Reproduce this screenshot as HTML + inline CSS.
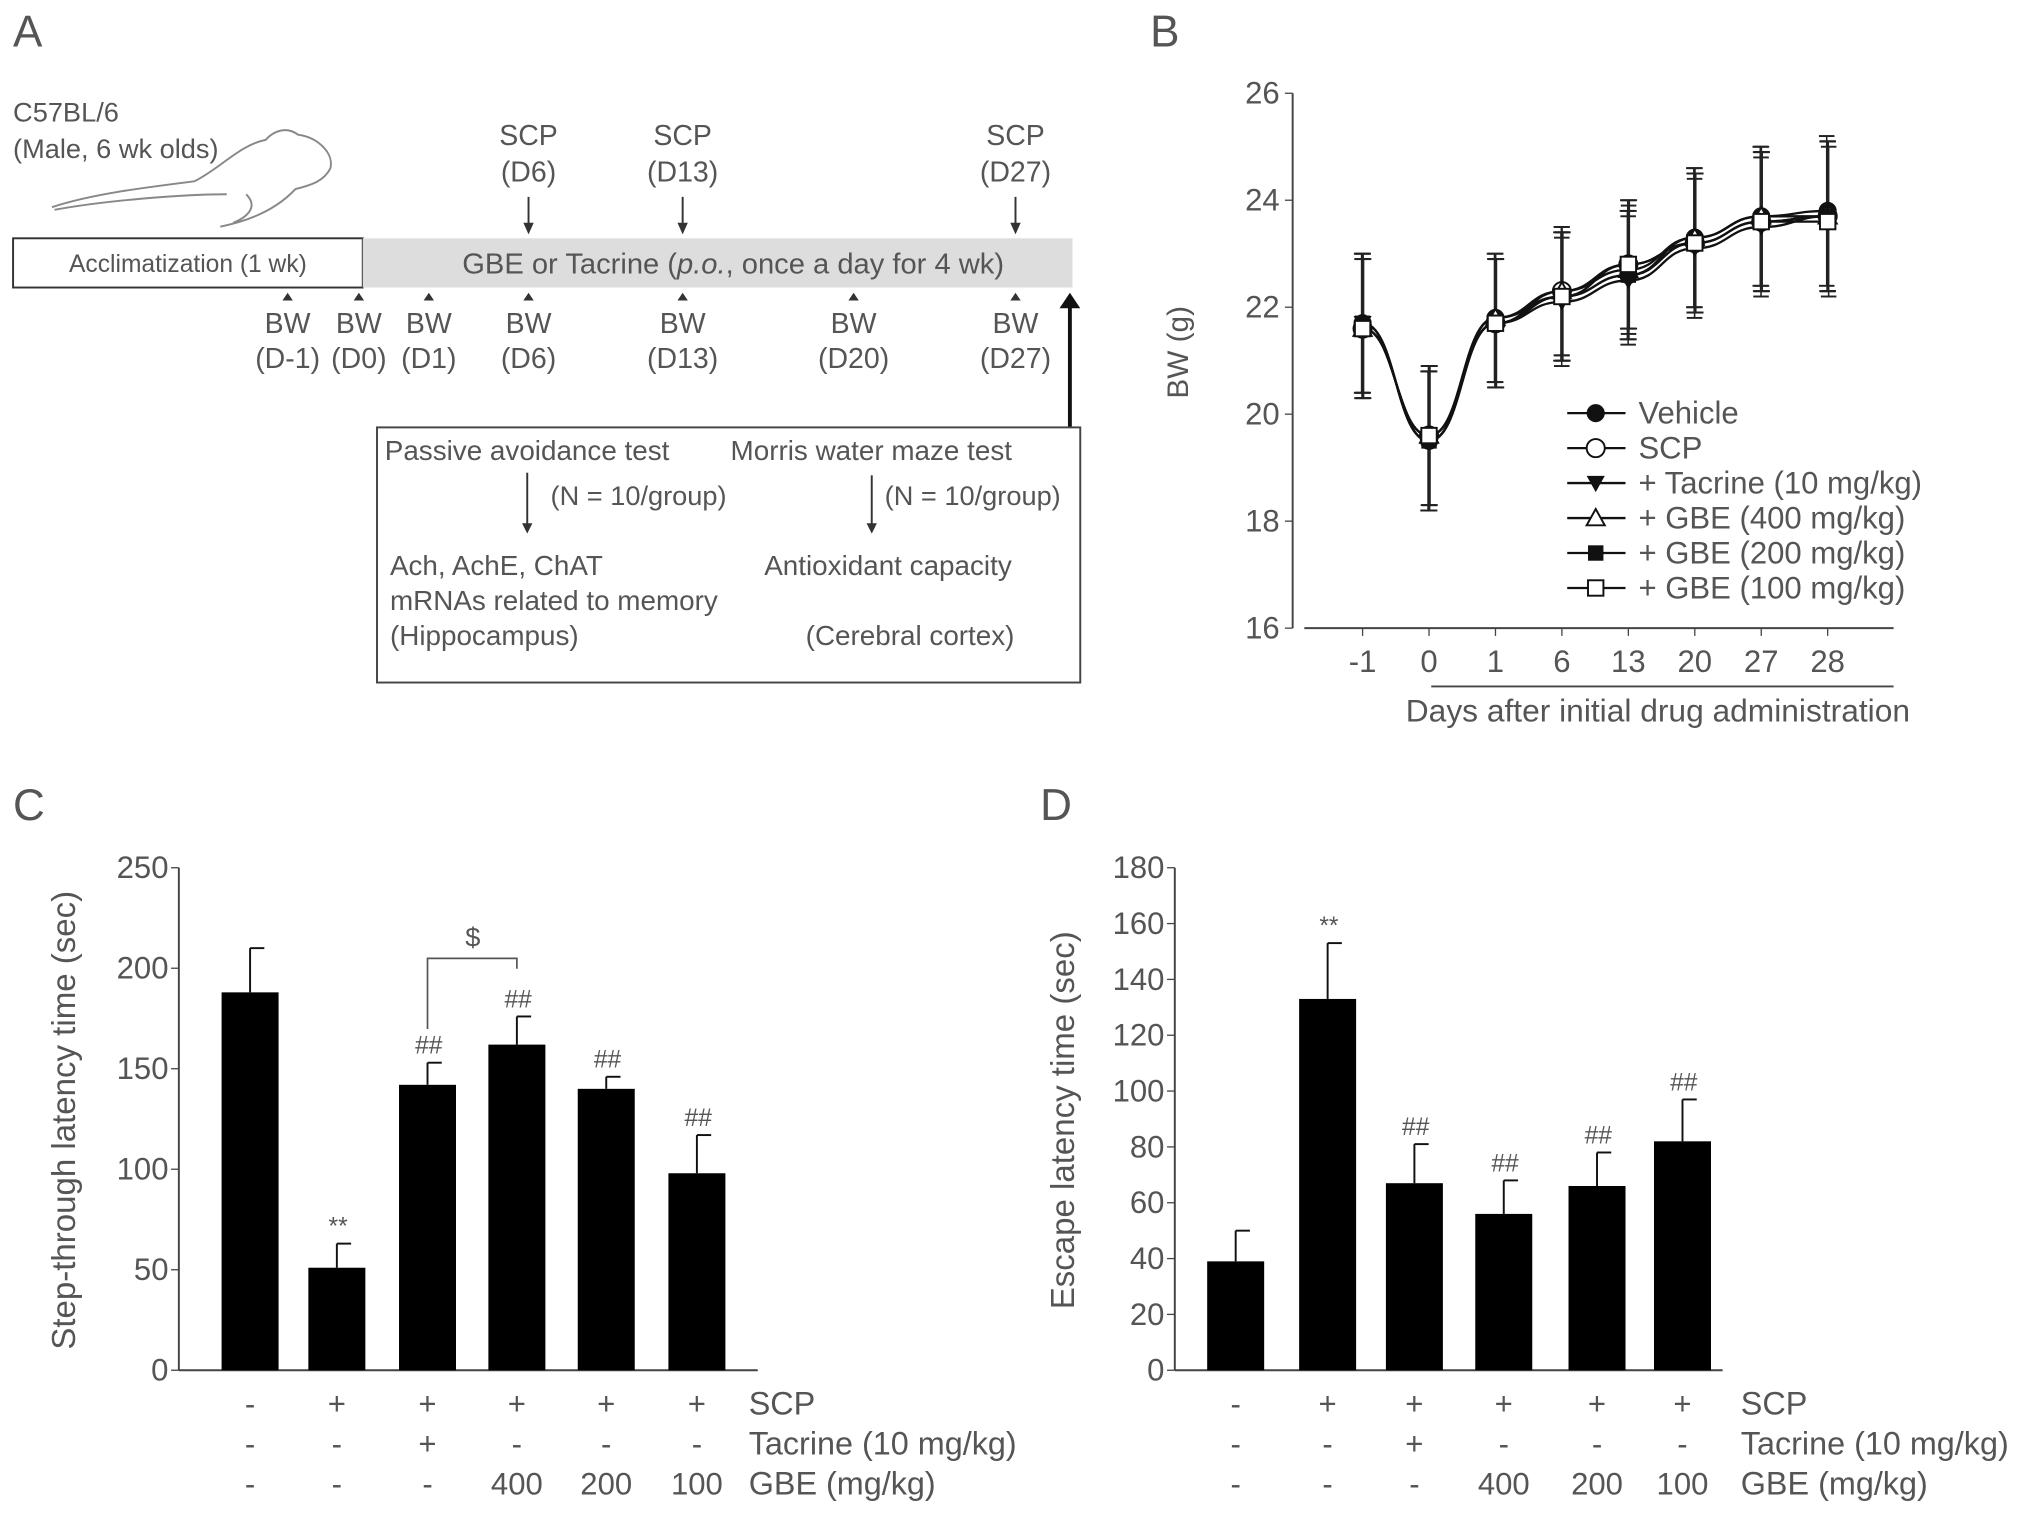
<!DOCTYPE html>
<html><head><meta charset="utf-8"><style>
html,body{margin:0;padding:0;background:#fff;}
svg{display:block;}
text{font-family:"Liberation Sans",sans-serif;fill:#555;}
</style></head><body>
<svg id="fig" width="2031" height="1514" viewBox="0 0 1568 1169">
<g>
<text x="10" y="36" font-size="34">A</text>
<text x="10" y="94" font-size="21">C57BL/6</text>
<text x="10" y="122" font-size="21">(Male, 6 wk olds)</text>
<path d="M40,160 C70,150 110,145 150,140 C170,130 185,112 205,108 C212,100 222,98 230,104 C245,106 258,118 255,130 C250,140 240,143 228,146 C215,160 195,170 170,175 M175,150 C140,150 80,155 42,162 M190,150 C200,160 190,168 180,172" fill="none" stroke="#888" stroke-width="1.5"/>
<rect x="10" y="184" width="270" height="38" fill="#fff" stroke="#333" stroke-width="1.5"/>
<text x="145" y="210" font-size="19" text-anchor="middle">Acclimatization (1 wk)</text>
<rect x="280" y="184" width="548" height="38" fill="#ddd"/>
<text x="566" y="211" font-size="22.5" text-anchor="middle">GBE or Tacrine (<tspan font-style="italic">p.o.</tspan>, once a day for 4 wk)</text>
<g id="scpG"></g><g id="bwG"></g>
<line x1="826" y1="232" x2="826" y2="330" stroke="#111" stroke-width="3"/>
<path d="M818,238 L826,226 L834,238Z" fill="#111"/>
<rect x="291" y="330" width="543" height="197" fill="#fff" stroke="#444" stroke-width="1.5"/>
<text x="297" y="355" font-size="21.5">Passive avoidance test</text>
<text x="564" y="355" font-size="21.5">Morris water maze test</text>
<line x1="407" y1="365" x2="407" y2="410" stroke="#333" stroke-width="1.5"/><path d="M403,404 L407,412 L411,404Z" fill="#333"/>
<line x1="673" y1="367" x2="673" y2="410" stroke="#333" stroke-width="1.5"/><path d="M669,404 L673,412 L677,404Z" fill="#333"/>
<text x="425" y="390" font-size="21">(N = 10/group)</text>
<text x="683" y="390" font-size="21">(N = 10/group)</text>
<text x="301" y="444" font-size="21.5">Ach, AchE, ChAT</text>
<text x="301" y="471" font-size="21.5">mRNAs related to memory</text>
<text x="301" y="498" font-size="21.5">(Hippocampus)</text>
<text x="590" y="444" font-size="21.5">Antioxidant capacity</text>
<text x="622" y="498" font-size="21.5">(Cerebral cortex)</text>
</g>
<g id="panelB">
<text x="888" y="36" font-size="34">B</text>
<text transform="translate(917,272) rotate(-90)" font-size="23" text-anchor="middle">BW (g)</text>
<text x="1280" y="557" font-size="24.5" text-anchor="middle">Days after initial drug administration</text>
</g>
<g id="panelC">
<text x="10" y="633" font-size="34">C</text>
<text transform="translate(58,865) rotate(-90)" font-size="25.5" text-anchor="middle">Step-through latency time (sec)</text>
</g>
<g id="panelD">
<text x="803" y="633" font-size="34">D</text>
<text transform="translate(829,865) rotate(-90)" font-size="25.5" text-anchor="middle">Escape latency time (sec)</text>
</g>
</svg>
<script>
const NS="http://www.w3.org/2000/svg";
function mk(p,tag,a,txt){const e=document.createElementNS(NS,tag);for(const k in a)e.setAttribute(k,a[k]);if(txt!==undefined)e.textContent=txt;p.appendChild(e);return e;}

const scpX=[408,527,784], scpLab=["(D6)","(D13)","(D27)"];
const bwX=[222,277,331,408,527,659,784], bwLab=["(D-1)","(D0)","(D1)","(D6)","(D13)","(D20)","(D27)"];
const scpG=document.getElementById('scpG'), bwG=document.getElementById('bwG');
scpX.forEach((x,i)=>{
  const t=mk(scpG,'text',{x:x,y:112,'font-size':22,'text-anchor':'middle'},'SCP');
  
  
  mk(scpG,'text',{x:x,y:140,'font-size':22,'text-anchor':'middle'},scpLab[i]);
  mk(scpG,'line',{x1:x,y1:152,x2:x,y2:176,stroke:'#333','stroke-width':1.5});
  mk(scpG,'path',{d:`M${x-4},172 L${x},181 L${x+4},172Z`,fill:'#333'});
});
bwX.forEach((x,i)=>{
  mk(bwG,'path',{d:`M${x-4},232 L${x},226 L${x+4},232Z`,fill:'#333'});
  const t=mk(bwG,'text',{x:x,y:257,'font-size':22,'text-anchor':'middle'},'BW');
  
  
  mk(bwG,'text',{x:x,y:284,'font-size':22,'text-anchor':'middle'},bwLab[i]);
});

const days=["-1","0","1","6","13","20","27","28"];
const seriesNames=["Vehicle","SCP","+ Tacrine (10 mg/kg)","+ GBE (400 mg/kg)","+ GBE (200 mg/kg)","+ GBE (100 mg/kg)"];
const vehicle=[21.7,19.5,21.8,22.2,22.6,23.3,23.7,23.8];
const scp=[21.6,19.6,21.7,22.3,22.8,23.2,23.6,23.7];
const tacrine=[21.7,19.5,21.7,22.1,22.5,23.1,23.5,23.7];
const gbe400=[21.6,19.6,21.8,22.3,22.7,23.3,23.7,23.7];
const gbe200=[21.7,19.5,21.7,22.2,22.6,23.2,23.6,23.7];
const gbe100=[21.6,19.6,21.7,22.2,22.8,23.2,23.6,23.6];
const bwErr=[1.3,1.3,1.2,1.2,1.2,1.3,1.3,1.4];
const bTicks=[16,18,20,22,24,26];
const B=document.getElementById('panelB');
const by=v=>485-(v-16)*41.3;
const bx=i=>1052+i*51.3;
mk(B,'line',{x1:998,y1:72,x2:998,y2:485,stroke:'#444','stroke-width':1.5});
mk(B,'line',{x1:1007,y1:485,x2:1462,y2:485,stroke:'#444','stroke-width':1.5});
mk(B,'line',{x1:1105,y1:530,x2:1462,y2:530,stroke:'#444','stroke-width':1.5});
bTicks.forEach(v=>{mk(B,'line',{x1:992,y1:by(v),x2:998,y2:by(v),stroke:'#444'});
 const t=mk(B,'text',{x:988,y:by(v)+8,'font-size':24,'text-anchor':'end'},v);
 
 });
days.forEach((d,i)=>{mk(B,'line',{x1:bx(i),y1:485,x2:bx(i),y2:491,stroke:'#444'});
 const t=mk(B,'text',{x:bx(i),y:519,'font-size':24,'text-anchor':'middle'},d);
 
 });
const allS=[vehicle,scp,tacrine,gbe400,gbe200,gbe100];
allS.forEach((s,k)=>{s.forEach((v,i)=>{
  const x=bx(i)+(k-2.5)*0.3;
  mk(B,'line',{x1:x,y1:by(v+bwErr[i]),x2:x,y2:by(v-bwErr[i]),stroke:'#222','stroke-width':1.2});
  [v+bwErr[i],v-bwErr[i]].forEach(e=>mk(B,'line',{x1:x-6,y1:by(e),x2:x+6,y2:by(e),stroke:'#222','stroke-width':1.5}));
});});
function smooth(s){let d=`M${bx(0)},${by(s[0])}`;for(let i=1;i<s.length;i++){const x0=bx(i-1),x1=bx(i),y0=by(s[i-1]),y1=by(s[i]);const m=(x0+x1)/2;d+=` C${m},${y0} ${m},${y1} ${x1},${y1}`;}return d;}
function marker(g,k,x,y,s){
  if(k==0) mk(g,'circle',{cx:x,cy:y,r:s,fill:'#111'});
  else if(k==1) mk(g,'circle',{cx:x,cy:y,r:s,fill:'#fff',stroke:'#111','stroke-width':1.5});
  else if(k==2) mk(g,'path',{d:`M${x-s},${y-s*0.8} L${x+s},${y-s*0.8} L${x},${y+s}Z`,fill:'#111'});
  else if(k==3) mk(g,'path',{d:`M${x-s},${y+s*0.8} L${x+s},${y+s*0.8} L${x},${y-s}Z`,fill:'#fff',stroke:'#111','stroke-width':1.5});
  else if(k==4) mk(g,'rect',{x:x-s*0.85,y:y-s*0.85,width:s*1.7,height:s*1.7,fill:'#111'});
  else mk(g,'rect',{x:x-s*0.85,y:y-s*0.85,width:s*1.7,height:s*1.7,fill:'#fff',stroke:'#111','stroke-width':1.5});
}
allS.forEach((s,k)=>{
  const p=mk(B,'path',{d:smooth(s),fill:'none',stroke:'#111','stroke-width':1.8});
  
  
  s.forEach((v,i)=>marker(B,k,bx(i),by(v),7));
});
seriesNames.forEach((n,k)=>{
  const y=319+k*27;
  mk(B,'line',{x1:1210,y1:y,x2:1255,y2:y,stroke:'#111','stroke-width':1.8});
  marker(B,k,1232,y,7);
  const t=mk(B,'text',{x:1265,y:y+8,'font-size':24},n);
  
  
});

const cValues=[188,51,142,162,140,98];
const cErrors=[22,12,11,14,6,19];
const cStars=["","**","##","##","##","##"];
const cTicks=[0,50,100,150,200,250];
const dValues=[39,133,67,56,66,82];
const dErrors=[11,20,14,12,12,15];
const dStars=["","**","##","##","##","##"];
const dTicks=[0,20,40,60,80,100,120,140,160,180];
const rowSCP=["-","+","+","+","+","+"];
const rowTac=["-","-","+","-","-","-"];
const rowGBE=["-","-","-","400","200","100"];

function barChart(G,axX,xEnd,centers,max,ticks,vals,errs,stars,labX){
  const y=v=>1058-v*(388/max);
  mk(G,'line',{x1:axX,y1:670,x2:axX,y2:1058,stroke:'#444','stroke-width':1.5});
  mk(G,'line',{x1:axX,y1:1058,x2:xEnd,y2:1058,stroke:'#444','stroke-width':1.5});
  ticks.forEach(v=>{mk(G,'line',{x1:axX-6,y1:y(v),x2:axX,y2:y(v),stroke:'#444'});
    const t=mk(G,'text',{x:axX-8,y:y(v)+8,'font-size':24,'text-anchor':'end'},v);
    
    });
  vals.forEach((v,i)=>{
    const cx=centers[i];
    mk(G,'line',{x1:cx,y1:y(v),x2:cx,y2:y(v+errs[i]),stroke:'#111','stroke-width':1.5});
    mk(G,'line',{x1:cx,y1:y(v+errs[i]),x2:cx+11,y2:y(v+errs[i]),stroke:'#111','stroke-width':1.5});
    const r=mk(G,'rect',{x:cx-22,y:y(v),width:44,height:1058-y(v),fill:'#000'});
    
    
    if(stars[i]){const t=mk(G,'text',{x:cx+1,y:y(v+errs[i])-7,'font-size':19,'text-anchor':'middle'},stars[i]);
      
      }
    [rowSCP,rowTac,rowGBE].forEach((row,r2)=>{
      mk(G,'text',{x:cx,y:1092+r2*31,'font-size':24,'text-anchor':'middle'},row[i]);
    });
  });
  ["SCP","Tacrine (10 mg/kg)","GBE (mg/kg)"].forEach((l,r2)=>{
    const t=mk(G,'text',{x:labX,y:1092+r2*31,'font-size':25},l);
    
    
  });
  return y;
}
const C=document.getElementById('panelC');
const cy=barChart(C,138,585,[193,260,330,399,468,538],250,cTicks,cValues,cErrors,cStars,578);
const by1=cy(cValues[2]+cErrors[2])-26, byTop=740;
mk(C,'path',{d:`M330,${by1} L330,${byTop} L399,${byTop} L399,${byTop+8}`,fill:'none',stroke:'#555','stroke-width':1.3});
mk(C,'text',{x:365,y:731,'font-size':21,'text-anchor':'middle'},'$');
const D=document.getElementById('panelD');
barChart(D,907,1330,[954,1025,1092,1161,1233,1299],180,dTicks,dValues,dErrors,dStars,1344);
</script>
</body></html>
